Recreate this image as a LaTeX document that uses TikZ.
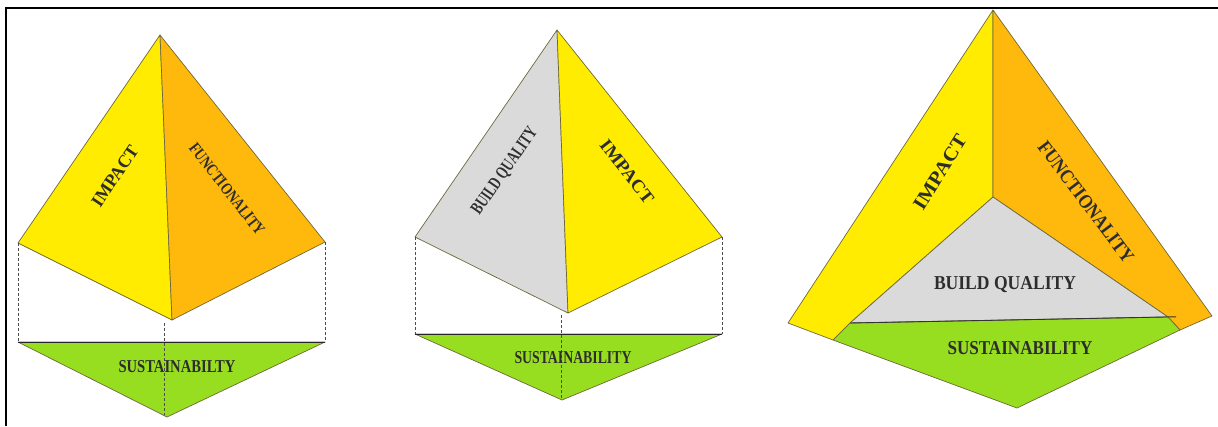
\documentclass[tikz,border=0pt]{standalone}
\usepackage{fontspec}
\setmainfont{Liberation Serif}
\usepackage{graphicx}
\definecolor{fyellow}{RGB}{255,236,0}
\definecolor{forange}{RGB}{255,184,12}
\definecolor{fgray}{RGB}{218,218,218}
\definecolor{fgreen}{RGB}{152,222,32}
\definecolor{edgec}{RGB}{110,105,60}
\definecolor{txt}{RGB}{45,45,45}
\newcommand{\fitlab}[3]{\resizebox{#1pt}{#2pt}{\bfseries #3}}
\tikzset{
  face/.style={draw=edgec, line width=0.7pt, line join=round},
  guide/.style={draw=black!70, dash pattern=on 3pt off 2pt, line width=0.6pt},
  lab/.style={text=txt, inner sep=0pt},
  frameline/.style={line width=1.6pt, draw=black}
}
\begin{document}
\begin{tikzpicture}[x=1pt,y=-1pt]
\useasboundingbox (0,0) rectangle (1218,426);
\coordinate (F1) at (6,426);
\coordinate (F2) at (6,8);
\coordinate (F3) at (1218,8);
\draw[frameline] (F1) -- (F2) -- (F3);

% ---------- left pyramid ----------
\coordinate (LA) at (160,35);
\coordinate (LL) at (18,243);
\coordinate (LR) at (325,242);
\coordinate (LF) at (172,320);
\coordinate (LBL) at (18,342);
\coordinate (LBR) at (325,342);
\coordinate (LBB) at (167,417);
\coordinate (LDT) at (164,323);
\coordinate (LDB) at (164,415);
\draw[face, fill=fyellow] (LA) -- (LL) -- (LF) -- cycle;
\draw[face, fill=forange] (LA) -- (LR) -- (LF) -- cycle;
\draw[face, fill=fgreen] (LBL) -- (LBR) -- (LBB) -- cycle;
\draw[black!85, line width=0.8pt] (LBL) -- (LBR);
\draw[guide] (LL) -- (LBL);
\draw[guide] (LR) -- (LBR);
\draw[guide] (LDT) -- (LDB);
\node[lab, rotate=56] (lImp) at (115,176) {\fitlab{70}{12}{IMPACT}};
\node[lab, rotate=-52] (lFun) at (227,189) {\fitlab{112}{11}{FUNCTIONALITY}};
\node[lab] (lSus) at (177,367) {\fitlab{117}{12}{SUSTAINABILTY}};

% ---------- middle pyramid ----------
\coordinate (MA) at (557,30);
\coordinate (ML) at (415,237);
\coordinate (MR) at (722,237);
\coordinate (MF) at (568,313);
\coordinate (MBL) at (415,334);
\coordinate (MBR) at (722,334);
\coordinate (MBB) at (562,400);
\coordinate (MDT) at (561,315);
\coordinate (MDB) at (561,399);
\draw[face, fill=fgray] (MA) -- (ML) -- (MF) -- cycle;
\draw[face, fill=fyellow] (MA) -- (MR) -- (MF) -- cycle;
\draw[face, fill=fgreen] (MBL) -- (MBR) -- (MBB) -- cycle;
\draw[black!85, line width=0.8pt] (MBL) -- (MBR);
\draw[guide] (ML) -- (MBL);
\draw[guide] (MR) -- (MBR);
\draw[guide] (MDT) -- (MDB);
\node[lab, rotate=55] (mBui) at (505,171) {\fitlab{102}{12}{BUILD QUALITY}};
\node[lab, rotate=-52] (mImp) at (627,172) {\fitlab{76}{12}{IMPACT}};
\node[lab] (mSus) at (573,358) {\fitlab{117}{12}{SUSTAINABILITY}};

% ---------- right pyramid ----------
\coordinate (RA) at (993,10);
\coordinate (RL) at (788,323);
\coordinate (RR) at (1212,316);
\coordinate (RB) at (1017,408);
\coordinate (RI) at (993,197);
\coordinate (RGL) at (850,323);
\coordinate (RGR) at (1168,317);
\coordinate (RYB) at (833,340);
\coordinate (ROB) at (1180,330);
\coordinate (RLX) at (1176,316.8);
\draw[face, fill=fyellow] (RA) -- (RI) -- (RGL) -- (RYB) -- (RL) -- cycle;
\draw[face, fill=forange] (RA) -- (RR) -- (ROB) -- (RGR) -- (RI) -- cycle;
\draw[face, fill=fgray] (RI) -- (RGL) -- (RGR) -- cycle;
\draw[face, fill=fgreen] (RYB) -- (RGL) -- (RGR) -- (ROB) -- (RB) -- cycle;
\draw[black!80, line width=0.9pt] (RGL) -- (RLX);
\node[lab, rotate=58] (rImp) at (940,172) {\fitlab{84}{13}{IMPACT}};
\node[lab, rotate=-53] (rFun) at (1086,202) {\fitlab{146}{13}{FUNCTIONALITY}};
\node[lab] (rBui) at (1005,285) {\fitlab{142}{13}{BUILD QUALITY}};
\node[lab] (rSus) at (1020,348) {\fitlab{145}{13}{SUSTAINABILITY}};
\end{tikzpicture}
\end{document}
